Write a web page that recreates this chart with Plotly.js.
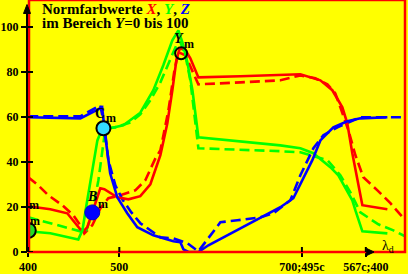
<!DOCTYPE html>
<html><head><meta charset="utf-8">
<script src="https://cdn.plot.ly/plotly-3.0.1.min.js"></script>
<style>html,body{margin:0;padding:0;background:#ffff00;}#chart{width:408px;height:274px;}</style>
</head><body><div id="chart"></div>
<script>
// X (red) solid and dashed
const xRedSolid = [400.3,424.4,443.0,457.3,461.7,465.0,479.2,483.6,497.8,509.9,523.0,534.0,545.0,552.6,558.1,562.5,565.8,571.3,577.8,586.6,632.6,698.3,720.2,733.3,744.3,749.7,755.2,760.7,766.2,793.6];
const yRedSolid = [20.3,19.0,17.2,10.1,9.6,11.0,28.3,27.9,24.3,23.4,24.8,30.1,43.0,57.2,71.9,85.2,90.1,90.5,86.1,77.6,78.1,79.0,76.3,71.9,64.3,57.2,43.9,31.9,20.8,19.0];
const xRedDash = [400.3,411.3,422.2,437.6,449.7,459.6,461.7,470.4,479.2,488.0,501.1,517.5,528.5,539.5,545.0,553.8,560.4,564.7,572.4,580.1,586.6,632.6,676.4,698.3,714.7,727.9,736.6,742.1,750.9,758.6,767.3,782.7,796.9,813.3];
const yRedDash = [33.2,29.6,25.2,20.8,16.3,10.5,8.3,11.9,19.4,23.9,25.2,27.4,31.9,41.6,45.2,63.0,80.8,88.8,87.4,80.8,74.5,75.4,76.3,78.5,77.2,74.5,70.5,64.3,54.1,43.0,33.2,27.4,21.7,14.1];
// Y (green) solid and dashed
const xGreenSolid = [400.3,424.4,455.1,459.6,464.0,470.5,476.0,479.2,490.1,504.4,515.4,523.0,537.3,548.2,558.1,564.7,569.1,574.5,580.1,584.4,586.6,676.4,698.3,712.5,731.1,739.9,749.7,755.2,758.6,766.2,793.6];
const yGreenSolid = [9.2,8.3,5.6,9.6,20.8,36.3,49.6,52.8,55.0,56.3,59.4,61.9,71.9,83.0,94.1,98.5,93.2,84.3,71.9,56.3,51.0,47.4,46.1,43.9,37.7,34.1,27.4,23.0,18.5,9.2,8.3];
const xGreenDash = [400.3,424.4,457.3,464.0,470.5,477.1,481.5,484.8,495.7,512.2,523.0,534.0,545.0,555.9,562.5,566.9,572.4,577.8,583.3,586.6,676.4,698.3,727.9,742.1,753.1,764.0,783.7,800.2,813.0];
const yGreenDash = [15.4,12.8,9.2,9.6,17.6,31.9,45.2,55.0,55.4,57.6,61.2,67.4,75.4,86.1,91.9,93.2,87.4,76.3,58.5,46.1,44.8,44.3,40.8,34.1,26.5,17.6,12.3,9.6,7.0];
// Z (blue) solid and dashed
const xBlueSolid = [400.3,457.3,481.2,484.5,490.0,497.8,508.7,519.7,537.3,559.2,566.9,570.2,575.7,586.6,597.6,676.4,690.6,711.4,720.2,734.4,749.7,764.0,793.6];
const yBlueSolid = [59.9,59.4,64.3,51.9,35.0,24.3,17.2,11.0,7.4,4.8,4.3,1.2,0,0,3.0,19.9,23.9,40.8,49.6,55.4,58.1,59.4,59.9];
const xBlueDash = [400.3,457.3,479.2,483.6,488.0,495.7,503.3,513.2,523.0,534.0,545.0,559.2,574.5,586.6,599.7,610.7,629.3,654.5,668.8,687.4,698.3,706.0,712.6,723.5,738.9,764.0,813.3];
const yBlueDash = [60.3,60.3,65.2,56.3,40.8,29.6,23.4,17.6,12.8,9.6,6.5,6.1,3.9,0.3,7.4,13.2,14.1,15.4,17.2,23.0,34.1,40.8,46.1,51.9,55.4,59.9,59.9];
// marked points
const pointNames = ['Y','C','B','G'];
const pointX = [567.7, 482.6, 470.4, 400.3];
const pointY = [88.3, 55.0, 17.6, 9.6];
// axis ticks
const xTickVals = [400, 500, 700, 770];
const xTickText = ['400', '500', '700;495c', '567c;400'];
const yTickVals = [0, 20, 40, 60, 80, 100];
const yTickText = ['0', '20', '40', '60', '80', '100'];

const RED = '#ff0000', GREEN = '#00ff00', BLUE = '#0000ff';
const FONT = 'Liberation Serif, Times New Roman, serif';
function line(x, y, color, dash) {
  return {x: x, y: y, type: 'scatter', mode: 'lines', hoverinfo: 'skip',
    line: {color: color, width: 2.6, dash: dash ? '10px,5px' : 'solid'}};
}
const traces = [
  line(xRedDash, yRedDash, RED, true),
  line(xGreenDash, yGreenDash, GREEN, true),
  line(xBlueDash, yBlueDash, BLUE, true),
  line(xRedSolid, yRedSolid, RED, false),
  line(xGreenSolid, yGreenSolid, GREEN, false),
  line(xBlueSolid, yBlueSolid, BLUE, false)
];
const markerStyles = [
  {color: 'rgba(0,0,0,0)', size: 12, line: {color: '#000', width: 2}},
  {color: '#33ddff', size: 14, line: {color: '#000', width: 2}},
  {color: BLUE, size: 15, line: {color: '#0000cc', width: 1}},
  {color: '#22dd22', size: 15, line: {color: '#000', width: 2}}
];
pointNames.forEach(function(n, i) {
  traces.push({x: [pointX[i]], y: [pointY[i]], type: 'scatter', mode: 'markers',
    hoverinfo: 'skip', cliponaxis: true, marker: markerStyles[i]});
});

const shapes = [];
// red frame
shapes.push({type: 'rect', xref: 'paper', yref: 'paper', x0: 1/377, x1: 1, y0: 0, y1: 1,
  line: {color: RED, width: 2.5}, layer: 'above'});
// black y axis line
shapes.push({type: 'line', xref: 'paper', yref: 'y', x0: -1/377, x1: -1/377, y0: 0, y1: 107,
  line: {color: '#000', width: 2}, layer: 'above'});
// arrowheads
shapes.push({type: 'path', xref: 'paper', yref: 'y', layer: 'above',
  path: 'M ' + (-4.5/377) + ',106 L ' + (-1/377) + ',110 L ' + (2.5/377) + ',106 Z',
  fillcolor: '#000', line: {color: '#000', width: 1}});
shapes.push({type: 'path', xref: 'x', yref: 'paper', layer: 'above',
  path: 'M 771,' + (3.5/252) + ' L 779,0 L 771,' + (-3.5/252) + ' Z',
  fillcolor: '#000', line: {color: '#000', width: 1}});
// inner parts of ticks
yTickVals.forEach(function(v) {
  shapes.push({type: 'line', xref: 'paper', yref: 'y', x0: -1/377, x1: 5/377, y0: v, y1: v,
    line: {color: '#000', width: 2}, layer: 'above'});
});
xTickVals.forEach(function(v) {
  shapes.push({type: 'line', xref: 'x', yref: 'paper', x0: v, x1: v, y0: 0, y1: 5/252,
    line: {color: '#000', width: 2}, layer: 'above'});
});

function lab(txt, i, dx, dy, size, color) {
  return {x: pointX[i], y: pointY[i], xref: 'x', yref: 'y', text: txt, showarrow: false,
    xshift: dx, yshift: dy, font: {family: FONT, size: size, color: color || '#000', weight: 'bold'}};
}
const annotations = [
  {xref: 'paper', yref: 'paper', x: 12/377, y: 1 - 9/252, xanchor: 'left', yanchor: 'middle', showarrow: false,
    text: 'Normfarbwerte <i><span style="color:#ff0000">X</span></i>, <i><span style="color:#00ff00">Y</span></i>, <i><span style="color:#0000ff">Z</span></i>',
    font: {family: FONT, size: 15, color: '#000', weight: 'bold'}},
  {xref: 'paper', yref: 'paper', x: 12/377, y: 1 - 22.5/252, xanchor: 'left', yanchor: 'middle', showarrow: false,
    text: 'im Bereich <i>Y</i>=0 bis 100',
    font: {family: FONT, size: 15, color: '#000', weight: 'bold'}},
  lab('<i>Y</i>', 0, -2, 15, 14), lab('m', 0, 8, 9, 12),
  lab('C', 1, -3, 15, 14), lab('m', 1, 8, 10, 12),
  lab('<i>B</i>', 2, 0, 16, 14), lab('m', 2, 11, 8, 12),
  {x: 406.8, y: 20.9, xref: 'x', yref: 'y', text: 'm', showarrow: false,
    font: {family: FONT, size: 12, color: '#000', weight: 'bold'}},
  {x: 407.5, y: 13.8, xref: 'x', yref: 'y', text: 'm', showarrow: false,
    font: {family: FONT, size: 12, color: '#000', weight: 'bold'}},
  {xref: 'x', yref: 'y', x: 785, y: 2.5, xanchor: 'left', yanchor: 'middle', showarrow: false,
    text: 'λ<sub>d</sub>', font: {family: FONT, size: 14, color: '#000'}}
];

const layout = {
  width: 408, height: 274,
  margin: {l: 28, r: 3, t: 0, b: 22, pad: 0},
  paper_bgcolor: '#ffff00', plot_bgcolor: '#ffff00',
  showlegend: false,
  xaxis: {range: [400, 812.9], showgrid: false, zeroline: false, showline: false,
    tickmode: 'array', tickvals: xTickVals, ticktext: xTickText,
    ticks: 'outside', ticklen: 4, tickwidth: 2, tickcolor: '#000',
    tickfont: {family: FONT, size: 12, color: '#000', weight: 'bold'}},
  yaxis: {range: [0, 112], showgrid: false, zeroline: false, showline: false,
    tickmode: 'array', tickvals: yTickVals, ticktext: yTickText,
    ticks: 'outside', ticklen: 6, tickwidth: 2, tickcolor: '#000',
    tickfont: {family: FONT, size: 12, color: '#000', weight: 'bold'}},
  shapes: shapes,
  annotations: annotations
};
Plotly.newPlot('chart', traces, layout, {staticPlot: true, displayModeBar: false});
</script>
</body></html>
